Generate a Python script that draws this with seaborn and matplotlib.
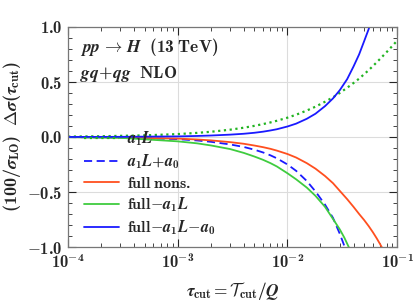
import numpy as np
import pandas as pd
import seaborn as sns
import matplotlib
matplotlib.use("Agg")
import matplotlib.pyplot as plt
from matplotlib.ticker import FixedLocator, FuncFormatter, LogLocator, NullFormatter

# values (tau_cut, curve value)
tau_dot = [1e-4, 2e-4, 5e-4, 1e-3, 1.5e-3, 2e-3, 3e-3, 4e-3, 5e-3, 6e-3, 7e-3, 8e-3,
           1e-2, 1.2e-2, 1.5e-2, 1.8e-2, 2.2e-2, 2.6e-2, 3e-2, 3.5e-2, 4e-2, 4.5e-2,
           5e-2, 5.5e-2, 6e-2, 7e-2, 8e-2, 9e-2, 1e-1]
a1L = [0.0035, 0.0065, 0.0145, 0.026, 0.037, 0.047, 0.066, 0.084, 0.101, 0.117, 0.132, 0.147,
       0.175, 0.202, 0.240, 0.275, 0.32, 0.36, 0.40, 0.447, 0.49, 0.53,
       0.57, 0.607, 0.643, 0.71, 0.77, 0.825, 0.875]

tau_dash = [1e-4, 3e-4, 1e-3, 1.5e-3, 2e-3, 3e-3, 4e-3, 5e-3, 6e-3, 7e-3, 8e-3,
            1e-2, 1.2e-2, 1.5e-2, 1.8e-2, 2.2e-2, 2.6e-2, 3e-2, 3.3e-2, 3.5e-2]
a1L_a0 = [-0.0015, -0.0055, -0.02, -0.032, -0.044, -0.068, -0.091, -0.116, -0.141, -0.167, -0.194,
          -0.25, -0.308, -0.40, -0.495, -0.615, -0.735, -0.88, -0.99, -1.07]

tau_full = [1e-4, 3e-4, 1e-3, 1.5e-3, 2e-3, 3e-3, 4e-3, 5e-3, 6e-3, 7e-3, 8e-3,
            1e-2, 1.2e-2, 1.5e-2, 1.8e-2, 2.2e-2, 2.6e-2, 3e-2, 3.5e-2, 4e-2, 4.5e-2,
            5e-2, 5.5e-2, 6e-2, 6.5e-2, 7e-2, 7.5e-2]
full = [-0.0015, -0.0045, -0.015, -0.023, -0.031, -0.047, -0.062, -0.078, -0.093, -0.108, -0.124,
        -0.155, -0.187, -0.238, -0.288, -0.355, -0.42, -0.49, -0.565, -0.635, -0.70,
        -0.755, -0.81, -0.865, -0.92, -0.975, -1.03]

tau_sub1 = [1e-4, 3e-4, 1e-3, 1.5e-3, 2e-3, 3e-3, 4e-3, 5e-3, 6e-3, 7e-3, 8e-3,
            1e-2, 1.2e-2, 1.5e-2, 1.8e-2, 2.2e-2, 2.6e-2, 3e-2, 3.3e-2, 3.6e-2, 3.8e-2]
full_a1L = [-0.002, -0.008, -0.04, -0.058, -0.077, -0.11, -0.145, -0.178, -0.208, -0.238, -0.268,
            -0.33, -0.385, -0.46, -0.535, -0.635, -0.745, -0.84, -0.915, -0.995, -1.05]

tau_sub2 = [1e-4, 3e-4, 1e-3, 1.5e-3, 2e-3, 3e-3, 4e-3, 5e-3, 6e-3, 7e-3, 8e-3,
            1e-2, 1.2e-2, 1.5e-2, 1.8e-2, 2.2e-2, 2.6e-2, 3e-2, 3.5e-2, 4e-2, 4.5e-2,
            5e-2, 5.5e-2, 6e-2]
full_a1L_a0 = [0.0, 0.001, 0.005, 0.009, 0.013, 0.021, 0.029, 0.038, 0.048, 0.059, 0.070,
               0.095, 0.121, 0.165, 0.211, 0.28, 0.35, 0.425, 0.525, 0.64, 0.75,
               0.87, 0.98, 1.1]

sns.set_style("ticks")
plt.rcParams.update({
    "mathtext.fontset": "custom",
    "mathtext.rm": "cmb10",
    "mathtext.bf": "cmb10",
    "mathtext.it": "STIXGeneral:italic:bold",
    "mathtext.cal": "cmsy10",
    "font.family": ["cmb10", "STIXGeneral"],
    "xtick.direction": "in",
    "ytick.direction": "in",
})

fig = plt.figure(figsize=(4.15, 3.04), dpi=100)
ax = fig.add_axes([0.164, 0.1875, 0.793, 0.724])

ax.grid(True, which="major", color="#dcdcdc", lw=0.8)
ax.set_axisbelow(True)

sns.lineplot(x=tau_dot, y=a1L, ax=ax, color="#22b422", lw=1.6,
             linestyle=(0, (1, 1.6)), label=r"$a_1L$")
sns.lineplot(x=tau_dash, y=a1L_a0, ax=ax, color="#1a1aff", lw=1.3,
             linestyle=(0, (4.5, 2.5)), label=r"$a_1L\!+\!a_0$")
sns.lineplot(x=tau_full, y=full, ax=ax, color="#ff4f1f", lw=1.3,
             label=r"$\mathrm{full\ nons.}$")
sns.lineplot(x=tau_sub1, y=full_a1L, ax=ax, color="#3fcc3f", lw=1.3,
             label=r"$\mathrm{full}\!-\!a_1L$")
sns.lineplot(x=tau_sub2, y=full_a1L_a0, ax=ax, color="#1a1aff", lw=1.3,
             label=r"$\mathrm{full}\!-\!a_1L\!-\!a_0$")

ax.set_xscale("log")
ax.set_xlim(1e-4, 1e-1)
ax.set_ylim(-1.0, 1.0)

ax.yaxis.set_major_locator(FixedLocator([-1.0, -0.5, 0.0, 0.5, 1.0]))
ax.yaxis.set_minor_locator(FixedLocator(np.arange(-1.0, 1.01, 0.1)))
ax.yaxis.set_major_formatter(FuncFormatter(lambda v, p: "$%.1f$" % (0.0 if abs(v) < 1e-9 else v)))
ax.xaxis.set_major_locator(LogLocator(base=10, numticks=10))
ax.xaxis.set_minor_locator(LogLocator(base=10, subs=np.arange(2, 10), numticks=10))
ax.xaxis.set_minor_formatter(NullFormatter())
ax.xaxis.set_major_formatter(FuncFormatter(lambda v, p: r"$10^{%d}$" % round(np.log10(v))))

ax.tick_params(which="both", top=True, right=True, labelsize=12, pad=4)
ax.tick_params(which="major", length=6, width=0.8)
ax.tick_params(which="minor", length=3, width=0.6)
for s in ax.spines.values():
    s.set_color("#777777")
    s.set_linewidth(0.9)

ax.set_xlabel(r"$\tau_{\mathrm{cut}} = \mathcal{T}_{\mathrm{cut}}/Q$", fontsize=12.5, labelpad=6)
ax.set_ylabel(r"$(100/\sigma_{\mathrm{LO}})\ \ \Delta\sigma(\tau_{\mathrm{cut}})$", fontsize=13, labelpad=3)

ax.text(0.036, 0.885, r"$pp \,\rightarrow\, H\ \ \mathrm{(13\ TeV)}$", transform=ax.transAxes, fontsize=12.5)
ax.text(0.036, 0.77, r"$gq\!+\!qg\ \ \mathrm{NLO}$", transform=ax.transAxes, fontsize=12.5)

ax.legend(loc="lower left", frameon=False, fontsize=11.5, handlelength=2.2,
          handletextpad=0.5, labelspacing=0.3, borderaxespad=0.2,
          bbox_to_anchor=(0.02, 0.0))

fig.savefig("out.png", dpi=100)
